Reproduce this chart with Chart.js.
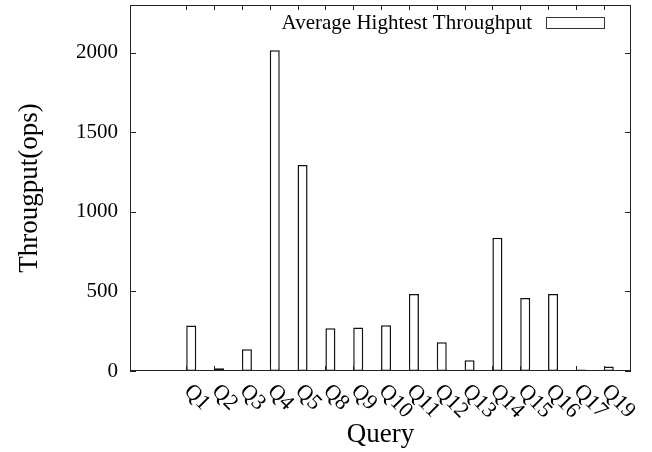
<!DOCTYPE html>
<html>
<head>
<meta charset="utf-8">
<script src="https://cdn.jsdelivr.net/npm/chart.js@4"></script>
<style>
  html, body { margin: 0; padding: 0; background: #fff; }
  #wrap { width: 652px; height: 452px; }
</style>
</head>
<body>
<div id="wrap"><canvas id="throughputChart"></canvas></div>
<script>
const queries = ['Q1', 'Q2', 'Q3', 'Q4', 'Q5', 'Q8', 'Q9', 'Q10', 'Q11', 'Q12', 'Q13', 'Q14', 'Q15', 'Q16', 'Q17', 'Q19'];
const throughput = [286, 17, 136, 2015, 1295, 269, 273, 287, 484, 181, 67, 838, 459, 484, 9, 28];
const yTicks = [0, 500, 1000, 1500, 2000];
const seriesLabel = 'Average Hightest Throughput';

const serif = 'Liberation Serif';

// gnuplot-like frame, inward ticks, rotated labels and legend
const gnuplotLook = {
    id: 'gnuplotLook',
    afterDatasetsDraw(chart) {
        const ctx = chart.ctx;
        const area = chart.chartArea;
        const y = chart.scales.y;
        const bars = chart.getDatasetMeta(0).data;
        ctx.save();
        ctx.strokeStyle = '#222';
        ctx.lineWidth = 1;
        ctx.strokeRect(area.left + 0.5, area.top + 0.5, area.right - area.left - 1, area.bottom - area.top - 1);

        ctx.beginPath();
        y.ticks.forEach(t => {
            const py = Math.round(y.getPixelForValue(t.value)) + 0.5;
            ctx.moveTo(area.left, py); ctx.lineTo(area.left + 6, py);
            ctx.moveTo(area.right, py); ctx.lineTo(area.right - 6, py);
        });
        bars.forEach(b => {
            const px = Math.round(b.x - b.width / 2) + 0.5;
            ctx.moveTo(px, area.bottom); ctx.lineTo(px, area.bottom - 5);
            ctx.moveTo(px, area.top); ctx.lineTo(px, area.top + 5);
        });
        ctx.stroke();

        ctx.fillStyle = '#000';
        ctx.font = '22px "' + serif + '"';
        ctx.textAlign = 'left';
        ctx.textBaseline = 'alphabetic';
        bars.forEach((b, i) => {
            const px = b.x - b.width / 2;
            ctx.save();
            ctx.translate(px - 3, area.bottom + 21);
            ctx.rotate(Math.PI / 4);
            ctx.fillText(queries[i], 0, 0);
            ctx.restore();
        });

        // legend: text then sample box on the right
        ctx.textAlign = 'right';
        ctx.font = '21px "' + serif + '"';
        ctx.fillText(chart.data.datasets[0].label, 532, 29);
        ctx.strokeStyle = '#333';
        ctx.strokeRect(546.5, 17.5, 58, 11);
        ctx.restore();
    }
};

const ctx = document.getElementById('throughputChart').getContext('2d');

new Chart(ctx, {
    type: 'bar',
    data: {
        datasets: [{
            label: seriesLabel,
            data: throughput.map((v, i) => ({ x: i, y: v })),
            backgroundColor: '#fff',
            borderColor: '#111',
            borderWidth: 1.5,
            borderSkipped: false,
            barPercentage: 0.36,
            categoryPercentage: 1
        }]
    },
    options: {
        responsive: true,
        maintainAspectRatio: false,
        animation: false,
        layout: { padding: { top: 5, right: 21, left: 0, bottom: 0 } },
        plugins: {
            legend: { display: false },
            tooltip: { enabled: false }
        },
        scales: {
            x: {
                type: 'linear',
                min: -2.2,
                max: 15.8,
                offset: false,
                grid: { display: false, drawTicks: false },
                border: { display: false },
                ticks: { display: false },
                afterFit: s => { s.height = 81; s.paddingLeft = 0; s.paddingRight = 0; },
                title: {
                    display: true,
                    text: 'Query',
                    color: '#000',
                    font: { family: serif, size: 27 },
                    padding: { top: 0, bottom: 1 }
                }
            },
            y: {
                min: 0,
                max: 2300,
                grid: { display: false, drawTicks: false },
                border: { display: false },
                afterBuildTicks: s => { s.ticks = yTicks.map(v => ({ value: v })); },
                afterFit: s => { s.width = 130; s.paddingTop = 0; s.paddingBottom = 0; },
                ticks: {
                    color: '#000',
                    padding: 12,
                    font: { family: serif, size: 21 },
                    callback: v => String(v)
                },
                title: {
                    display: true,
                    text: 'Througput(ops)',
                    color: '#000',
                    font: { family: serif, size: 27 },
                    padding: { top: 14, bottom: 0 }
                }
            }
        }
    },
    plugins: [gnuplotLook]
});
</script>
</body>
</html>
